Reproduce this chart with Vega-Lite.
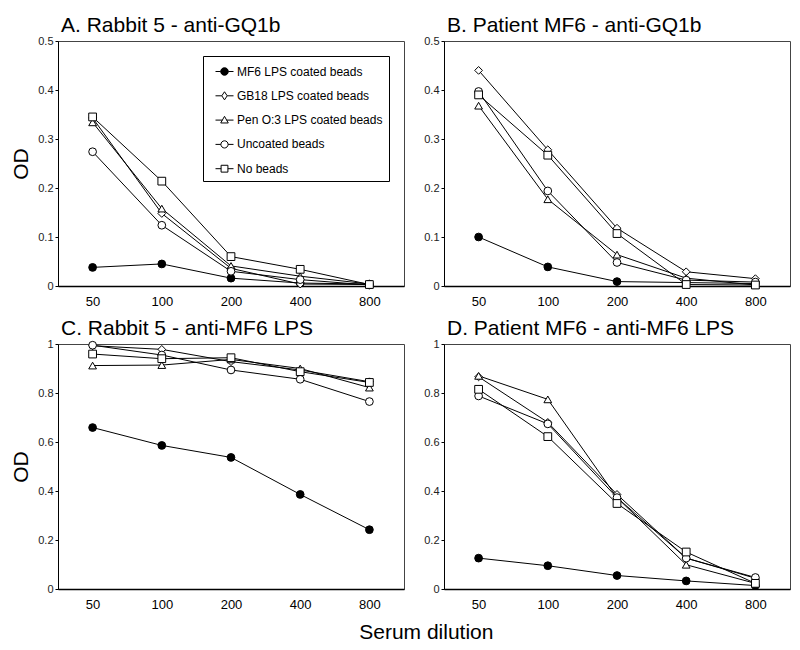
{
  "$schema": "https://vega.github.io/schema/vega-lite/v6.json",
  "background": "white",
  "padding": {"left": 10, "top": 14, "right": 5, "bottom": 5},
  "data": {"values": [
    {"panel": "A", "dilution": 50, "series": "MF6 LPS coated beads", "od": 0.038},
    {"panel": "A", "dilution": 100, "series": "MF6 LPS coated beads", "od": 0.045},
    {"panel": "A", "dilution": 200, "series": "MF6 LPS coated beads", "od": 0.016},
    {"panel": "A", "dilution": 400, "series": "MF6 LPS coated beads", "od": 0.006},
    {"panel": "A", "dilution": 800, "series": "MF6 LPS coated beads", "od": 0.004},
    {"panel": "A", "dilution": 50, "series": "GB18 LPS coated beads", "od": 0.343},
    {"panel": "A", "dilution": 100, "series": "GB18 LPS coated beads", "od": 0.148},
    {"panel": "A", "dilution": 200, "series": "GB18 LPS coated beads", "od": 0.036},
    {"panel": "A", "dilution": 400, "series": "GB18 LPS coated beads", "od": 0.004},
    {"panel": "A", "dilution": 800, "series": "GB18 LPS coated beads", "od": 0.003},
    {"panel": "A", "dilution": 50, "series": "Pen O:3 LPS coated beads", "od": 0.334},
    {"panel": "A", "dilution": 100, "series": "Pen O:3 LPS coated beads", "od": 0.158},
    {"panel": "A", "dilution": 200, "series": "Pen O:3 LPS coated beads", "od": 0.041},
    {"panel": "A", "dilution": 400, "series": "Pen O:3 LPS coated beads", "od": 0.02},
    {"panel": "A", "dilution": 800, "series": "Pen O:3 LPS coated beads", "od": 0.004},
    {"panel": "A", "dilution": 50, "series": "Uncoated beads", "od": 0.274},
    {"panel": "A", "dilution": 100, "series": "Uncoated beads", "od": 0.124},
    {"panel": "A", "dilution": 200, "series": "Uncoated beads", "od": 0.03},
    {"panel": "A", "dilution": 400, "series": "Uncoated beads", "od": 0.013},
    {"panel": "A", "dilution": 800, "series": "Uncoated beads", "od": 0.002},
    {"panel": "A", "dilution": 50, "series": "No beads", "od": 0.345},
    {"panel": "A", "dilution": 100, "series": "No beads", "od": 0.214},
    {"panel": "A", "dilution": 200, "series": "No beads", "od": 0.06},
    {"panel": "A", "dilution": 400, "series": "No beads", "od": 0.034},
    {"panel": "A", "dilution": 800, "series": "No beads", "od": 0.003},

    {"panel": "B", "dilution": 50, "series": "MF6 LPS coated beads", "od": 0.1},
    {"panel": "B", "dilution": 100, "series": "MF6 LPS coated beads", "od": 0.039},
    {"panel": "B", "dilution": 200, "series": "MF6 LPS coated beads", "od": 0.009},
    {"panel": "B", "dilution": 400, "series": "MF6 LPS coated beads", "od": 0.007},
    {"panel": "B", "dilution": 800, "series": "MF6 LPS coated beads", "od": 0.005},
    {"panel": "B", "dilution": 50, "series": "GB18 LPS coated beads", "od": 0.44},
    {"panel": "B", "dilution": 100, "series": "GB18 LPS coated beads", "od": 0.278},
    {"panel": "B", "dilution": 200, "series": "GB18 LPS coated beads", "od": 0.118},
    {"panel": "B", "dilution": 400, "series": "GB18 LPS coated beads", "od": 0.029},
    {"panel": "B", "dilution": 800, "series": "GB18 LPS coated beads", "od": 0.015},
    {"panel": "B", "dilution": 50, "series": "Pen O:3 LPS coated beads", "od": 0.368},
    {"panel": "B", "dilution": 100, "series": "Pen O:3 LPS coated beads", "od": 0.177},
    {"panel": "B", "dilution": 200, "series": "Pen O:3 LPS coated beads", "od": 0.064},
    {"panel": "B", "dilution": 400, "series": "Pen O:3 LPS coated beads", "od": 0.016},
    {"panel": "B", "dilution": 800, "series": "Pen O:3 LPS coated beads", "od": 0.002},
    {"panel": "B", "dilution": 50, "series": "Uncoated beads", "od": 0.397},
    {"panel": "B", "dilution": 100, "series": "Uncoated beads", "od": 0.194},
    {"panel": "B", "dilution": 200, "series": "Uncoated beads", "od": 0.048},
    {"panel": "B", "dilution": 400, "series": "Uncoated beads", "od": 0.012},
    {"panel": "B", "dilution": 800, "series": "Uncoated beads", "od": 0.008},
    {"panel": "B", "dilution": 50, "series": "No beads", "od": 0.39},
    {"panel": "B", "dilution": 100, "series": "No beads", "od": 0.267},
    {"panel": "B", "dilution": 200, "series": "No beads", "od": 0.107},
    {"panel": "B", "dilution": 400, "series": "No beads", "od": 0.003},
    {"panel": "B", "dilution": 800, "series": "No beads", "od": 0.002},

    {"panel": "C", "dilution": 50, "series": "MF6 LPS coated beads", "od": 0.659},
    {"panel": "C", "dilution": 100, "series": "MF6 LPS coated beads", "od": 0.586},
    {"panel": "C", "dilution": 200, "series": "MF6 LPS coated beads", "od": 0.537},
    {"panel": "C", "dilution": 400, "series": "MF6 LPS coated beads", "od": 0.386},
    {"panel": "C", "dilution": 800, "series": "MF6 LPS coated beads", "od": 0.242},
    {"panel": "C", "dilution": 50, "series": "GB18 LPS coated beads", "od": 0.993},
    {"panel": "C", "dilution": 100, "series": "GB18 LPS coated beads", "od": 0.978},
    {"panel": "C", "dilution": 200, "series": "GB18 LPS coated beads", "od": 0.928},
    {"panel": "C", "dilution": 400, "series": "GB18 LPS coated beads", "od": 0.894},
    {"panel": "C", "dilution": 800, "series": "GB18 LPS coated beads", "od": 0.846},
    {"panel": "C", "dilution": 50, "series": "Pen O:3 LPS coated beads", "od": 0.912},
    {"panel": "C", "dilution": 100, "series": "Pen O:3 LPS coated beads", "od": 0.914},
    {"panel": "C", "dilution": 200, "series": "Pen O:3 LPS coated beads", "od": 0.937},
    {"panel": "C", "dilution": 400, "series": "Pen O:3 LPS coated beads", "od": 0.9},
    {"panel": "C", "dilution": 800, "series": "Pen O:3 LPS coated beads", "od": 0.822},
    {"panel": "C", "dilution": 50, "series": "Uncoated beads", "od": 0.995},
    {"panel": "C", "dilution": 100, "series": "Uncoated beads", "od": 0.955},
    {"panel": "C", "dilution": 200, "series": "Uncoated beads", "od": 0.894},
    {"panel": "C", "dilution": 400, "series": "Uncoated beads", "od": 0.856},
    {"panel": "C", "dilution": 800, "series": "Uncoated beads", "od": 0.765},
    {"panel": "C", "dilution": 50, "series": "No beads", "od": 0.959},
    {"panel": "C", "dilution": 100, "series": "No beads", "od": 0.94},
    {"panel": "C", "dilution": 200, "series": "No beads", "od": 0.944},
    {"panel": "C", "dilution": 400, "series": "No beads", "od": 0.887},
    {"panel": "C", "dilution": 800, "series": "No beads", "od": 0.843},

    {"panel": "D", "dilution": 50, "series": "MF6 LPS coated beads", "od": 0.126},
    {"panel": "D", "dilution": 100, "series": "MF6 LPS coated beads", "od": 0.095},
    {"panel": "D", "dilution": 200, "series": "MF6 LPS coated beads", "od": 0.055},
    {"panel": "D", "dilution": 400, "series": "MF6 LPS coated beads", "od": 0.033},
    {"panel": "D", "dilution": 800, "series": "MF6 LPS coated beads", "od": 0.014},
    {"panel": "D", "dilution": 50, "series": "GB18 LPS coated beads", "od": 0.866},
    {"panel": "D", "dilution": 100, "series": "GB18 LPS coated beads", "od": 0.68},
    {"panel": "D", "dilution": 200, "series": "GB18 LPS coated beads", "od": 0.386},
    {"panel": "D", "dilution": 400, "series": "GB18 LPS coated beads", "od": 0.126},
    {"panel": "D", "dilution": 800, "series": "GB18 LPS coated beads", "od": 0.044},
    {"panel": "D", "dilution": 50, "series": "Pen O:3 LPS coated beads", "od": 0.87},
    {"panel": "D", "dilution": 100, "series": "Pen O:3 LPS coated beads", "od": 0.774},
    {"panel": "D", "dilution": 200, "series": "Pen O:3 LPS coated beads", "od": 0.373},
    {"panel": "D", "dilution": 400, "series": "Pen O:3 LPS coated beads", "od": 0.099},
    {"panel": "D", "dilution": 800, "series": "Pen O:3 LPS coated beads", "od": 0.023},
    {"panel": "D", "dilution": 50, "series": "Uncoated beads", "od": 0.788},
    {"panel": "D", "dilution": 100, "series": "Uncoated beads", "od": 0.674},
    {"panel": "D", "dilution": 200, "series": "Uncoated beads", "od": 0.373},
    {"panel": "D", "dilution": 400, "series": "Uncoated beads", "od": 0.126},
    {"panel": "D", "dilution": 800, "series": "Uncoated beads", "od": 0.047},
    {"panel": "D", "dilution": 50, "series": "No beads", "od": 0.815},
    {"panel": "D", "dilution": 100, "series": "No beads", "od": 0.622},
    {"panel": "D", "dilution": 200, "series": "No beads", "od": 0.349},
    {"panel": "D", "dilution": 400, "series": "No beads", "od": 0.151},
    {"panel": "D", "dilution": 800, "series": "No beads", "od": 0.023}
  ]},
  "title": {"text": "Serum dilution", "orient": "bottom", "anchor": "middle", "frame": "bounds", "fontSize": 21, "offset": 10, "dx": 26},
  "columns": 2,
  "spacing": {"row": 8, "column": 18},
  "concat": [
    {
      "width": 346, "height": 245,
      "title": {"text": "A. Rabbit 5 - anti-GQ1b"},
      "transform": [{"filter": "datum.panel === 'A'"}],
      "encoding": {
        "x": {"field": "dilution", "type": "ordinal", "scale": {"type": "point", "padding": 0.5}, "axis": {"title": null}},
        "y": {"field": "od", "type": "quantitative", "scale": {"domain": [0, 0.5], "nice": false}, "axis": {"title": "OD", "values": [0, 0.1, 0.2, 0.3, 0.4, 0.5], "format": ".1~f"}}
      },
      "layer": [
        {"mark": {"type": "line", "color": "black", "strokeWidth": 1}, "encoding": {"detail": {"field": "series", "type": "nominal"}}},
        {"mark": {"type": "point", "stroke": "black", "strokeWidth": 1, "opacity": 1, "size": 60},
         "encoding": {
           "shape": {"field": "series", "type": "nominal", "scale": {"domain": ["MF6 LPS coated beads", "GB18 LPS coated beads", "Pen O:3 LPS coated beads", "Uncoated beads", "No beads"], "range": ["circle", "diamond", "triangle-up", "circle", "square"]}, "legend": null},
           "fill": {"field": "series", "type": "nominal", "scale": {"domain": ["MF6 LPS coated beads", "GB18 LPS coated beads", "Pen O:3 LPS coated beads", "Uncoated beads", "No beads"], "range": ["black", "white", "white", "white", "white"]}, "legend": null}
         }},
        {"transform": [{"filter": "datum.series === 'legend only'"}],
         "mark": {"type": "point", "stroke": "black", "strokeWidth": 1, "opacity": 1, "size": 60},
         "encoding": {
           "shape": {"field": "series", "type": "nominal",
             "scale": {"domain": ["MF6 LPS coated beads", "GB18 LPS coated beads", "Pen O:3 LPS coated beads", "Uncoated beads", "No beads"],
               "range": [
                 "M-1,0L-0.42,0M0.42,0L1,0M0.42,0A0.42,0.42,0,1,1,-0.42,0A0.42,0.42,0,1,1,0.42,0Z",
                 "M-1,0L-0.3,0M0.3,0L1,0M0,-0.45L0.3,0L0,0.45L-0.3,0Z",
                 "M-1,0L-0.24,0M0.24,0L1,0M0,-0.42L0.42,0.32L-0.42,0.32Z",
                 "M-1,0L-0.4,0M0.4,0L1,0M0.4,0A0.4,0.4,0,1,1,-0.4,0A0.4,0.4,0,1,1,0.4,0Z",
                 "M-1,0L-0.38,0M0.38,0L1,0M-0.38,-0.38L0.38,-0.38L0.38,0.38L-0.38,0.38Z"
               ]},
             "legend": {"title": null, "orient": "top-right", "offset": 15, "padding": 6, "rowPadding": 8.3, "symbolSize": 324, "symbolOffset": 6, "labelOffset": 3, "fillColor": "white", "strokeColor": "black", "symbolStrokeWidth": 1, "symbolStrokeColor": "black", "labelFontSize": 12, "labelColor": "black", "labelLimit": 300,
               "encoding": {"symbols": {"stroke": {"value": "black"}, "strokeWidth": {"value": 1}}}}},
           "fill": {"field": "series", "type": "nominal",
             "scale": {"domain": ["MF6 LPS coated beads", "GB18 LPS coated beads", "Pen O:3 LPS coated beads", "Uncoated beads", "No beads"], "range": ["black", "white", "white", "white", "white"]},
             "legend": {"title": null, "orient": "top-right", "offset": 15, "padding": 6, "rowPadding": 8.3, "symbolSize": 324, "symbolOffset": 6, "labelOffset": 3, "fillColor": "white", "strokeColor": "black", "symbolStrokeWidth": 1, "symbolStrokeColor": "black", "labelFontSize": 12, "labelColor": "black", "labelLimit": 300,
               "encoding": {"symbols": {"stroke": {"value": "black"}, "strokeWidth": {"value": 1}}}}}
         }}
      ],
      "resolve": {"scale": {"shape": "independent", "fill": "independent"}, "legend": {"shape": "independent", "fill": "independent"}}
    },
    {
      "width": 346, "height": 245,
      "title": {"text": "B. Patient MF6 - anti-GQ1b"},
      "transform": [{"filter": "datum.panel === 'B'"}],
      "encoding": {
        "x": {"field": "dilution", "type": "ordinal", "scale": {"type": "point", "padding": 0.5}, "axis": {"title": null}},
        "y": {"field": "od", "type": "quantitative", "scale": {"domain": [0, 0.5], "nice": false}, "axis": {"title": null, "values": [0, 0.1, 0.2, 0.3, 0.4, 0.5], "format": ".1~f"}}
      },
      "layer": [
        {"mark": {"type": "line", "color": "black", "strokeWidth": 1}, "encoding": {"detail": {"field": "series", "type": "nominal"}}},
        {"mark": {"type": "point", "stroke": "black", "strokeWidth": 1, "opacity": 1, "size": 60},
         "encoding": {
           "shape": {"field": "series", "type": "nominal", "scale": {"domain": ["MF6 LPS coated beads", "GB18 LPS coated beads", "Pen O:3 LPS coated beads", "Uncoated beads", "No beads"], "range": ["circle", "diamond", "triangle-up", "circle", "square"]}, "legend": null},
           "fill": {"field": "series", "type": "nominal", "scale": {"domain": ["MF6 LPS coated beads", "GB18 LPS coated beads", "Pen O:3 LPS coated beads", "Uncoated beads", "No beads"], "range": ["black", "white", "white", "white", "white"]}, "legend": null}
         }}
      ]
    },
    {
      "width": 346, "height": 245,
      "title": {"text": "C. Rabbit 5 - anti-MF6 LPS"},
      "transform": [{"filter": "datum.panel === 'C'"}],
      "encoding": {
        "x": {"field": "dilution", "type": "ordinal", "scale": {"type": "point", "padding": 0.5}, "axis": {"title": null}},
        "y": {"field": "od", "type": "quantitative", "scale": {"domain": [0, 1], "nice": false}, "axis": {"title": "OD", "values": [0, 0.2, 0.4, 0.6, 0.8, 1], "format": ".1~f"}}
      },
      "layer": [
        {"mark": {"type": "line", "color": "black", "strokeWidth": 1}, "encoding": {"detail": {"field": "series", "type": "nominal"}}},
        {"mark": {"type": "point", "stroke": "black", "strokeWidth": 1, "opacity": 1, "size": 60},
         "encoding": {
           "shape": {"field": "series", "type": "nominal", "scale": {"domain": ["MF6 LPS coated beads", "GB18 LPS coated beads", "Pen O:3 LPS coated beads", "Uncoated beads", "No beads"], "range": ["circle", "diamond", "triangle-up", "circle", "square"]}, "legend": null},
           "fill": {"field": "series", "type": "nominal", "scale": {"domain": ["MF6 LPS coated beads", "GB18 LPS coated beads", "Pen O:3 LPS coated beads", "Uncoated beads", "No beads"], "range": ["black", "white", "white", "white", "white"]}, "legend": null}
         }}
      ]
    },
    {
      "width": 346, "height": 245,
      "title": {"text": "D. Patient MF6 - anti-MF6 LPS"},
      "transform": [{"filter": "datum.panel === 'D'"}],
      "encoding": {
        "x": {"field": "dilution", "type": "ordinal", "scale": {"type": "point", "padding": 0.5}, "axis": {"title": null}},
        "y": {"field": "od", "type": "quantitative", "scale": {"domain": [0, 1], "nice": false}, "axis": {"title": null, "values": [0, 0.2, 0.4, 0.6, 0.8, 1], "format": ".1~f"}}
      },
      "layer": [
        {"mark": {"type": "line", "color": "black", "strokeWidth": 1}, "encoding": {"detail": {"field": "series", "type": "nominal"}}},
        {"mark": {"type": "point", "stroke": "black", "strokeWidth": 1, "opacity": 1, "size": 60},
         "encoding": {
           "shape": {"field": "series", "type": "nominal", "scale": {"domain": ["MF6 LPS coated beads", "GB18 LPS coated beads", "Pen O:3 LPS coated beads", "Uncoated beads", "No beads"], "range": ["circle", "diamond", "triangle-up", "circle", "square"]}, "legend": null},
           "fill": {"field": "series", "type": "nominal", "scale": {"domain": ["MF6 LPS coated beads", "GB18 LPS coated beads", "Pen O:3 LPS coated beads", "Uncoated beads", "No beads"], "range": ["black", "white", "white", "white", "white"]}, "legend": null}
         }}
      ]
    }
  ],
  "resolve": {
    "scale": {"x": "independent", "y": "independent", "shape": "independent", "fill": "independent"},
    "legend": {"shape": "independent", "fill": "independent"}
  },
  "config": {
    "font": "Liberation Sans",
    "view": {"stroke": "#444", "strokeWidth": 1},
    "axis": {"labelFont": "Liberation Sans", "labelColor": "#222", "domainColor": "black", "tickColor": "black", "grid": false, "titleFont": "Liberation Sans", "titleFontWeight": "normal", "titleColor": "black"},
    "axisX": {"ticks": false, "labelFontSize": 13, "labelPadding": 9, "domainWidth": 1.5, "labelAngle": 0, "labelColor": "black"},
    "axisY": {"tickSize": 3, "labelFontSize": 11, "labelPadding": 2, "titleFontSize": 21, "titlePadding": 6, "domainWidth": 1},
    "title": {"font": "Liberation Sans", "fontSize": 21, "fontWeight": "normal", "anchor": "start", "frame": "group", "dx": 3, "color": "black", "offset": -1},
    "legend": {"labelFont": "Liberation Sans"}
  }
}
